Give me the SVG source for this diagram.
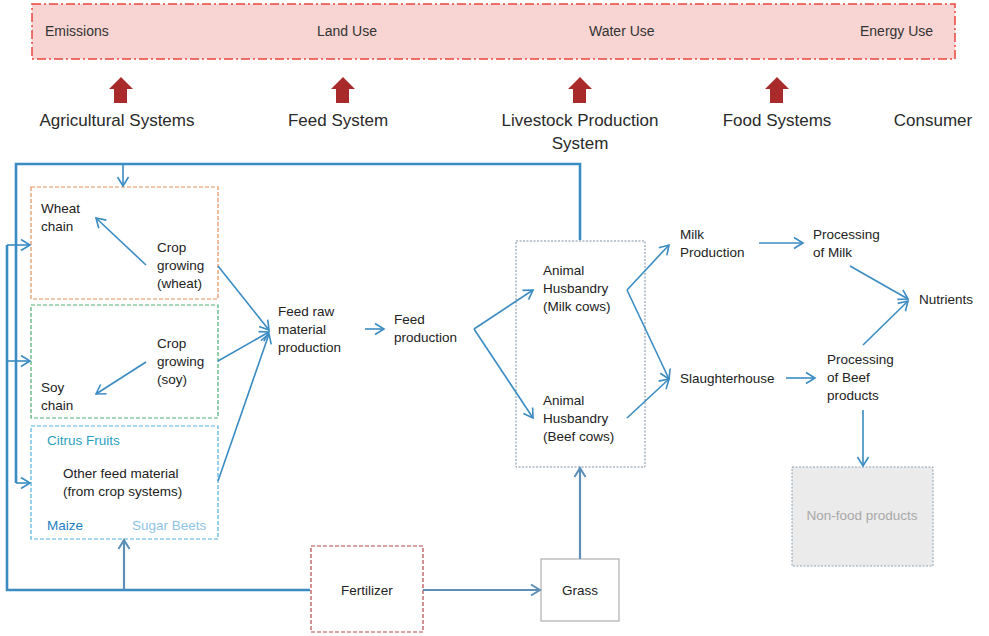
<svg xmlns="http://www.w3.org/2000/svg" width="989" height="636" viewBox="0 0 989 636">
<style>
text{font-family:"Liberation Sans",Arial,sans-serif;fill:#222;}
.t{font-size:13.5px;}
.h{font-size:17px;fill:#2a2a2a;}
.b{font-size:14px;fill:#333;}
.ln{fill:none;stroke:#3a8cc2;stroke-width:1.6;}
.lg{fill:none;stroke:#5e8fb6;stroke-width:2.2;}
.lt{fill:none;stroke:#3a8cc2;stroke-width:2.6;}
.ra{fill:#a82a2a;}
</style>
<defs>
<marker id="ah" markerUnits="userSpaceOnUse" markerWidth="14" markerHeight="14" refX="11" refY="7" orient="auto">
<path d="M2,1.5 L11,7 L2,12.5" fill="none" stroke="#3a8cc2" stroke-width="1.6"/>
</marker>
<marker id="ag" markerUnits="userSpaceOnUse" markerWidth="14" markerHeight="14" refX="11" refY="7" orient="auto">
<path d="M2,1.5 L11,7 L2,12.5" fill="none" stroke="#5e8fb6" stroke-width="2"/>
</marker>
</defs>

<g id="impacts">
<rect x="32" y="4" width="923" height="55" fill="#f8d5d3" stroke="#e8453c" stroke-width="1.5" stroke-dasharray="9 3 2 3"/>
<text class="b" x="45" y="36">Emissions</text>
<text class="b" x="317" y="36">Land Use</text>
<text class="b" x="589" y="36">Water Use</text>
<text class="b" x="860" y="36">Energy Use</text>
</g>

<g id="stage-arrows">
<polygon class="ra" points="121,77 133,89 127,89 127,103 114,103 114,89 109,89"/>
<polygon class="ra" points="343,77 355,89 349,89 349,103 336,103 336,89 331,89"/>
<polygon class="ra" points="580,77 592,89 586,89 586,103 573,103 573,89 568,89"/>
<polygon class="ra" points="777,77 789,89 783,89 783,103 770,103 770,89 765,89"/>
</g>

<g id="stages">
<text class="h" x="117" y="126" text-anchor="middle">Agricultural Systems</text>
<text class="h" x="338" y="126" text-anchor="middle">Feed System</text>
<text class="h" x="580" y="126" text-anchor="middle">Livestock Production</text>
<text class="h" x="580" y="149" text-anchor="middle">System</text>
<text class="h" x="777" y="126" text-anchor="middle">Food Systems</text>
<text class="h" x="933" y="126" text-anchor="middle">Consumer</text>
</g>

<g id="wheat">
<rect x="31" y="187" width="187" height="112" fill="#fff" stroke="#e0905a" stroke-width="1.2" stroke-dasharray="4 2"/>
<text class="t" x="41" y="213">Wheat</text>
<text class="t" x="41" y="231">chain</text>
<text class="t" x="157" y="252">Crop</text>
<text class="t" x="157" y="270">growing</text>
<text class="t" x="157" y="288">(wheat)</text>
</g>

<g id="soy">
<rect x="31" y="305" width="187" height="113" fill="#fff" stroke="#4caf72" stroke-width="1.2" stroke-dasharray="4 2"/>
<text class="t" x="157" y="348">Crop</text>
<text class="t" x="157" y="366">growing</text>
<text class="t" x="157" y="384">(soy)</text>
<text class="t" x="41" y="392">Soy</text>
<text class="t" x="41" y="410">chain</text>
</g>

<g id="other-feed">
<rect x="31" y="426" width="187" height="113" fill="#fff" stroke="#4fb3e0" stroke-width="1.2" stroke-dasharray="4 2"/>
<text class="t" x="47" y="445" style="fill:#2aa0bf">Citrus Fruits</text>
<text class="t" x="63" y="478">Other feed material</text>
<text class="t" x="63" y="496">(from crop systems)</text>
<text class="t" x="47" y="530" style="fill:#1f7fc4">Maize</text>
<text class="t" x="132" y="530" style="fill:#8ec4e8">Sugar Beets</text>
</g>

<g id="feed-raw">
<text class="t" x="278" y="316">Feed raw</text>
<text class="t" x="278" y="334">material</text>
<text class="t" x="278" y="352">production</text>
</g>

<g id="feed-production">
<text class="t" x="394" y="324">Feed</text>
<text class="t" x="394" y="342">production</text>
</g>

<g id="livestock">
<rect x="516" y="241" width="129" height="226" fill="none" stroke="#7d8fa0" stroke-width="1" stroke-dasharray="2 1.5"/>
<text class="t" x="543" y="275">Animal</text>
<text class="t" x="543" y="293">Husbandry</text>
<text class="t" x="543" y="311">(Milk cows)</text>
<text class="t" x="543" y="405">Animal</text>
<text class="t" x="543" y="423">Husbandry</text>
<text class="t" x="543" y="441">(Beef cows)</text>
</g>

<g id="milk-production">
<text class="t" x="680" y="239">Milk</text>
<text class="t" x="680" y="257">Production</text>
</g>

<g id="slaughterhouse">
<text class="t" x="680" y="383">Slaughterhouse</text>
</g>

<g id="processing-milk">
<text class="t" x="813" y="239">Processing</text>
<text class="t" x="813" y="257">of Milk</text>
</g>

<g id="processing-beef">
<text class="t" x="827" y="364">Processing</text>
<text class="t" x="827" y="382">of Beef</text>
<text class="t" x="827" y="400">products</text>
</g>

<g id="nutrients">
<text class="t" x="919" y="304">Nutrients</text>
</g>

<g id="non-food">
<rect x="792" y="467" width="141" height="99" fill="#ebebeb" stroke="#8aa0b0" stroke-width="1" stroke-dasharray="2 1.5"/>
<text class="t" x="862" y="520" text-anchor="middle" style="fill:#a8a8a8">Non-food products</text>
</g>

<g id="fertilizer">
<rect x="311" y="546" width="112" height="86" fill="#fff" stroke="#b8474a" stroke-width="1.2" stroke-dasharray="4 2"/>
<text class="t" x="367" y="595" text-anchor="middle">Fertilizer</text>
</g>

<g id="grass">
<rect x="541" y="559" width="78" height="62" fill="#fff" stroke="#b0b0b0" stroke-width="1.2"/>
<text class="t" x="580" y="595" text-anchor="middle">Grass</text>
</g>

<g id="connectors">
<path class="lt" d="M580,240 V164 H16 V483"/>
<path class="ln" d="M16,483 H30" marker-end="url(#ah)"/>
<path class="ln" d="M123,164 V186" marker-end="url(#ah)"/>
<path class="lt" d="M310,590 H7 V245"/>
<path class="ln" d="M7,245 H30" marker-end="url(#ah)"/>
<path class="ln" d="M7,361 H30" marker-end="url(#ah)"/>
<path class="lg" d="M124,590 V540" marker-end="url(#ag)"/>
<path class="ln" d="M146,265 L96,218" marker-end="url(#ah)"/>
<path class="ln" d="M146,362 L96,394" marker-end="url(#ah)"/>
<path class="ln" d="M218,266 L269,330" marker-end="url(#ah)"/>
<path class="ln" d="M218,361 L269,332" marker-end="url(#ah)"/>
<path class="ln" d="M218,481 L269,334" marker-end="url(#ah)"/>
<path class="ln" d="M365,329 H384" marker-end="url(#ah)"/>
<path class="ln" d="M474,329 L533,290" marker-end="url(#ah)"/>
<path class="ln" d="M474,329 L533,418" marker-end="url(#ah)"/>
<path class="ln" d="M627,290 L669,245" marker-end="url(#ah)"/>
<path class="ln" d="M627,290 L669,379" marker-end="url(#ah)"/>
<path class="ln" d="M627,418 L669,379" marker-end="url(#ah)"/>
<path class="ln" d="M759,243 H803" marker-end="url(#ah)"/>
<path class="ln" d="M786,378 H815" marker-end="url(#ah)"/>
<path class="ln" d="M850,266 L908,299" marker-end="url(#ah)"/>
<path class="ln" d="M863,345 L908,301" marker-end="url(#ah)"/>
<path class="ln" d="M863,410 V466" marker-end="url(#ah)"/>
<path class="lg" d="M423,590 H540" marker-end="url(#ag)"/>
<path class="lg" d="M580,559 V468" marker-end="url(#ag)"/>
</g>
</svg>
